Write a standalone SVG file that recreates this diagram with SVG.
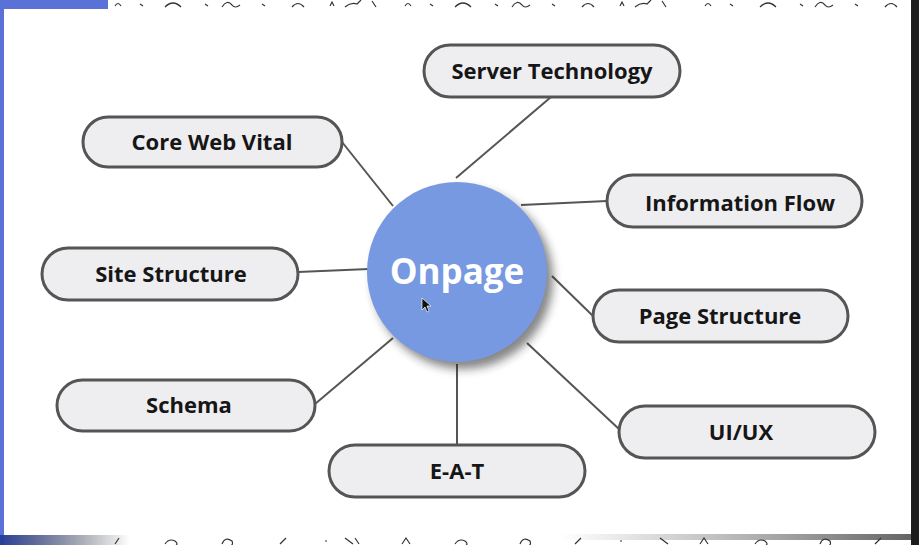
<svg xmlns="http://www.w3.org/2000/svg" width="919" height="545" viewBox="0 0 919 545">
<style>
.pill rect{fill:#eeeef1;stroke:#555;stroke-width:3}
.pill text{font-family:"Open Sans","Liberation Sans",sans-serif;font-weight:700;font-size:22px;fill:#161616;text-anchor:middle}
.conn line{stroke:#555;stroke-width:2}
.doodle{fill:none;stroke:#333;stroke-width:1.2}
</style>
<defs>
<filter id="sh" x="-30%" y="-30%" width="160%" height="160%">
<feGaussianBlur stdDeviation="5"/>
</filter>
<linearGradient id="bl" x1="0" y1="0" x2="1" y2="0">
<stop offset="0" stop-color="#2a3f9a"/>
<stop offset="1" stop-color="#111" stop-opacity="0"/>
</linearGradient>
<linearGradient id="bs" x1="0" y1="0" x2="1" y2="0">
<stop offset="0" stop-color="#444" stop-opacity="0"/>
<stop offset="1" stop-color="#222" stop-opacity="0.7"/>
</linearGradient>
</defs>
<rect width="919" height="545" fill="#fff"/>
<rect x="0" y="0" width="108" height="9" fill="#5a72d8"/>
<rect x="0" y="0" width="4" height="545" fill="#5a72d8"/>
<rect x="911" y="0" width="8" height="545" fill="#1c1c1c"/>
<rect x="0" y="535" width="130" height="10" fill="url(#bl)"/>
<rect x="560" y="534" width="351" height="6" fill="url(#bs)"/>
<g class="doodle">
<path d="M115 6 q3 -5 6 0 M140 4 l3 2 M165 7 q8 -8 16 0 M205 4 l3 2 M222 7 q5 -8 10 -2 q3 4 8 0 M262 4 l3 2 M292 7 q6 -7 12 0 M330 6 l2 -4 l2 4 M345 7 q6 -5 12 -3 l4 -4 M372 1 l4 6 M405 6 q3 -5 6 0 M430 4 l3 2 M455 7 q8 -8 16 0 M495 4 l3 2 M512 7 q5 -8 10 -2 q3 4 8 0 M552 4 l3 2 M582 7 q6 -7 12 0 M620 6 l2 -4 l2 4 M635 7 q6 -5 12 -3 l4 -4 M662 1 l4 6 M705 6 q3 -5 6 0 M730 4 l3 2 M760 7 q8 -8 16 0 M800 4 l3 2 M815 7 q5 -8 10 -2 q3 4 8 0 M855 4 l3 2 M885 7 q6 -7 12 0"/>
<path d="M115 544 l4 -6 M165 544 q4 -6 10 -3 q4 3 0 5 M222 544 q3 -8 10 -3 q2 5 -4 5 M280 544 l6 -6 M325 541 l2 0 M345 538 l8 6 M355 538 l4 6 M402 544 l4 -6 l4 6 M455 544 q4 -6 10 -3 q4 3 0 5 M520 544 q3 -8 10 -3 q2 5 -4 5 M575 544 l6 -6 M620 541 l2 0 M660 538 l8 6 M700 544 l4 -6 l4 6 M755 544 q4 -6 10 -3 q4 3 0 5 M820 544 q3 -8 10 -3 q2 5 -4 5 M875 544 l6 -6"/>
</g>
<g class="conn">
<line x1="551" y1="97" x2="456" y2="178"/>
<line x1="342" y1="142" x2="393" y2="206"/>
<line x1="607" y1="201" x2="521" y2="205"/>
<line x1="298" y1="272" x2="369" y2="269"/>
<line x1="593" y1="316" x2="552" y2="276"/>
<line x1="620" y1="430" x2="527" y2="343"/>
<line x1="457" y1="445" x2="457" y2="364"/>
<line x1="315" y1="404" x2="393" y2="338"/>
</g>
<g id="onpage">
<circle cx="463" cy="279" r="90" fill="#222" opacity="0.55" filter="url(#sh)"/>
<circle cx="457" cy="272" r="90" fill="#7799e1"/>
<text x="457" y="284" font-family="'Open Sans','Liberation Sans',sans-serif" font-weight="700" font-size="35" fill="#fff" text-anchor="middle">Onpage</text>
<path d="M422 298 l0 12 l3 -3 l2 5 l2 -1 l-2 -5 l4 0 z" fill="#111" stroke="#fff" stroke-width="0.7"/>
</g>
<g id="server" class="pill"><rect x="424" y="45" width="256" height="52" rx="26"/><text x="552" y="79">Server Technology</text></g>
<g id="core" class="pill"><rect x="83" y="117" width="259" height="50" rx="25"/><text x="212" y="150">Core Web Vital</text></g>
<g id="info" class="pill"><rect x="607" y="175" width="255" height="52" rx="26"/><text x="740" y="211">Information Flow</text></g>
<g id="site" class="pill"><rect x="42" y="248" width="256" height="52" rx="26"/><text x="171" y="282">Site Structure</text></g>
<g id="page" class="pill"><rect x="593" y="290" width="255" height="52" rx="26"/><text x="720" y="324">Page Structure</text></g>
<g id="schema" class="pill"><rect x="57" y="380" width="258" height="51" rx="25.5"/><text x="189" y="413">Schema</text></g>
<g id="uiux" class="pill"><rect x="619" y="406" width="256" height="52" rx="26"/><text x="741" y="440">UI/UX</text></g>
<g id="eat" class="pill"><rect x="329" y="445" width="256" height="52" rx="26"/><text x="457" y="479">E-A-T</text></g>
</svg>
